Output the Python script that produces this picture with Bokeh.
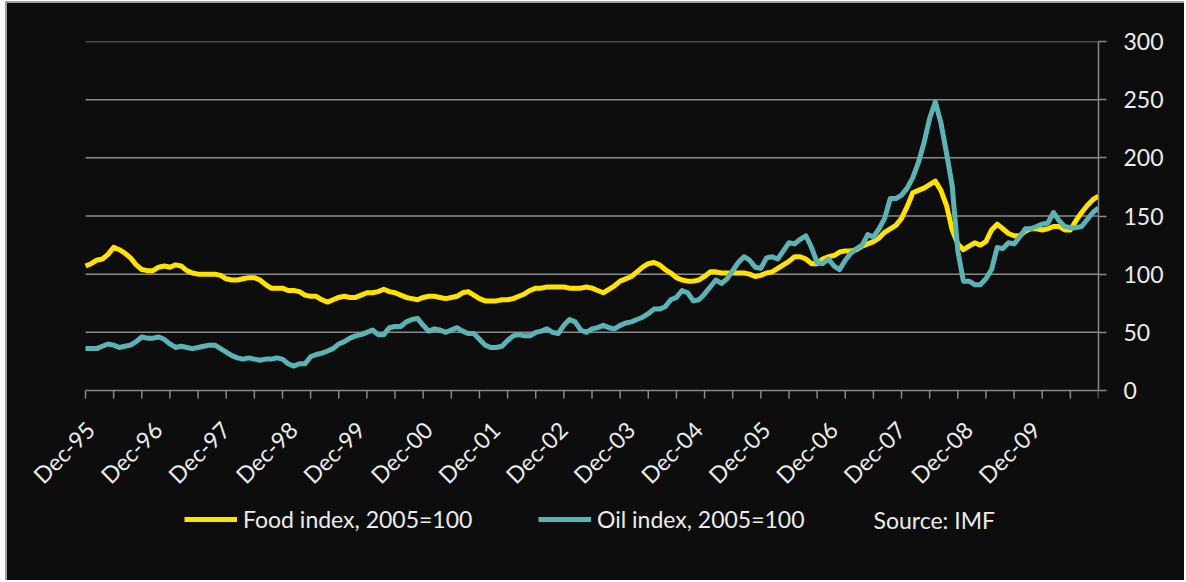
import math
from bokeh.plotting import figure
from bokeh.models import (Range1d, FixedTicker, Legend, LegendItem, Label,
                          LabelSet, ColumnDataSource, LinearAxis)
from bokeh.core.properties import value
from bokeh.embed import file_html
from bokeh.resources import INLINE

# ---- data: monthly, Dec-1995 .. Dec-2010 (index 0 = Dec-95) ----
month_index = list(range(181))

food = [
    107, 109, 112, 113, 117, 123, 121, 118, 114, 108, 104, 103,
    103, 106, 107, 106, 108, 107, 103, 101, 100, 100, 100, 100,
    99, 96, 95, 95, 96, 97, 97, 95, 91, 88, 88, 88,
    86, 86, 85, 82, 81, 81, 78, 76, 78, 80, 81, 80,
    80, 82, 84, 84, 85, 87, 85, 84, 82, 80, 79, 78,
    80, 81, 81, 80, 79, 80, 81, 84, 85, 82, 79, 77,
    77, 77, 78, 78, 79, 81, 83, 86, 88, 88, 89, 89,
    89, 89, 88, 88, 88, 89, 88, 86, 84, 87, 90, 94,
    96, 98, 102, 106, 109, 110, 108, 104, 101, 97, 95, 94,
    94, 95, 98, 102, 102, 101, 101, 101, 101, 101, 100, 98,
    99, 101, 102, 105, 108, 111, 115, 115, 113, 109, 109, 113,
    115, 116, 119, 120, 120, 121, 124, 126, 128, 131, 136, 139,
    142, 148, 158, 170, 172, 174, 177, 180, 172, 159, 138, 126,
    121, 124, 127, 125, 128, 138, 143, 139, 135, 133, 133, 137,
    139, 139, 138, 139, 141, 141, 138, 138, 146, 153, 159, 164,
    167,
]

oil = [
    36, 36, 36, 38, 40, 39, 37, 38, 39, 42, 46, 45,
    45, 46, 44, 40, 37, 38, 37, 36, 37, 38, 39, 39,
    36, 33, 30, 28, 27, 28, 27, 26, 27, 27, 28, 27,
    23, 21, 23, 23, 29, 31, 32, 34, 36, 40, 42, 45,
    47, 48, 50, 52, 48, 48, 54, 55, 55, 59, 61, 62,
    56, 51, 53, 52, 50, 52, 54, 51, 49, 49, 44, 39,
    37, 37, 38, 43, 47, 48, 47, 47, 50, 51, 53, 50,
    49, 56, 61, 59, 52, 50, 53, 54, 56, 54, 53, 56,
    58, 59, 61, 63, 66, 70, 70, 72, 78, 80, 86, 84,
    77, 78, 83, 89, 95, 92, 96, 103, 110, 115, 112, 106,
    105, 114, 115, 113, 120, 127, 126, 130, 133, 123, 110, 109,
    113, 107, 104, 112, 118, 122, 125, 134, 132, 139, 148, 165,
    165, 168, 174, 183, 196, 213, 234, 248, 230, 204, 176, 120,
    94, 94, 91, 91, 96, 104, 123, 122, 127, 126, 132, 139,
    139, 141, 143, 144, 153, 146, 141, 140, 140, 141, 147, 153,
    157,
]

tick_labels = ["Dec-95", "Dec-96", "Dec-97", "Dec-98", "Dec-99", "Dec-00",
               "Dec-01", "Dec-02", "Dec-03", "Dec-04", "Dec-05", "Dec-06",
               "Dec-07", "Dec-08", "Dec-09"]
label_months = [month_index[k * 12] for k in range(len(tick_labels))]
minor_tick_months = month_index[::5]
y_ticks = [0, 50, 100, 150, 200, 250, 300]

series_names = ["Food index, 2005=100", "Oil index, 2005=100"]
source_note = "Source: IMF"

# ---- style ----
BG = "#0d0d0d"
GRID = "#8a8a8a"
TXT = "#ececec"
YEL = "#ffe200"
TEAL = "#5cb3b6"
FONT = "Lato"
FS = "23px"

OX, OY = 7, 3                         # canvas origin on the page
W, H = 1179, 579
FL, FR, FT, FB = 85, 1098, 41, 390    # plot area (months 0..180, values 0..300) on the page
X_START, X_END = month_index[0], month_index[-1]
Y_BOT, Y_TOP = y_ticks[0], y_ticks[-1]
PX_PER_MONTH = (FR - FL) / (X_END - X_START)
PX_PER_UNIT = (FB - FT) / (Y_TOP - Y_BOT)
# the frame covers the whole canvas left of the value axis, so that the
# rotated date labels and the legend below the plot area are not clipped
X_LOW = X_START - (FL - OX) / PX_PER_MONTH
Y_LOW = Y_BOT - ((OY + H) - FB) / PX_PER_UNIT

p = figure(width=W, height=H, x_range=Range1d(X_LOW, X_END), y_range=Range1d(Y_LOW, Y_TOP),
           output_backend="svg", toolbar_location=None,
           x_axis_location=None, y_axis_location=None,
           background_fill_color=BG, background_fill_alpha=0,
           border_fill_color=BG, border_fill_alpha=0, outline_line_color=None,
           min_border_left=0, min_border_right=W - (FR - OX),
           min_border_top=FT - OY, min_border_bottom=0)
# one uniform dark background for the whole chart area (no seams between fills)
p.styles = {"border-left": "2px solid #a0a0a0", "border-top": "2px solid #a0a0a0",
            "margin-left": "5px", "margin-top": "1px", "background-color": BG}
p.xgrid.visible = False
p.ygrid.visible = False

# value axis on the right
ya = LinearAxis(bounds=(Y_BOT, Y_TOP))
ya.ticker = FixedTicker(ticks=y_ticks)
ya.minor_tick_line_color = None
ya.major_tick_in = 0
ya.major_tick_out = 8
ya.major_tick_line_color = GRID
ya.major_tick_line_width = 1.5
ya.axis_line_color = GRID
ya.axis_line_width = 1.5
ya.major_label_standoff = 17
ya.major_label_text_font = FONT
ya.major_label_text_font_size = FS
ya.major_label_text_color = TXT
p.add_layout(ya, "right")

# horizontal gridlines over the plot area (the one at 0 is the date axis line)
p.segment(x0=[X_START] * len(y_ticks), x1=[X_END] * len(y_ticks),
          y0=y_ticks, y1=y_ticks, line_color=GRID, line_width=1.5)
# date axis tick marks every 5 months, pointing down
p.ray(x=minor_tick_months, y=[Y_BOT] * len(minor_tick_months), length=8,
      length_units="screen", angle=-math.pi / 2, line_color=GRID, line_width=1.5)

r_food = p.line(month_index, food, line_color=YEL, line_width=5, line_join="round")
r_oil = p.line(month_index, oil, line_color=TEAL, line_width=5, line_join="round")

# rotated date labels hung below the axis
lab_src = ColumnDataSource(dict(x=label_months, text=tick_labels))
xlabels = LabelSet(x="x", y=Y_BOT, text="text", source=lab_src,
                   angle=math.pi / 4, text_align="right", text_baseline="top",
                   x_offset=-5, y_offset=-25, text_font=value(FONT),
                   text_font_size=FS, text_color=TXT)
p.add_layout(xlabels)

LEG_Y = 519   # page y of legend row centre
FRAME_BOTTOM = OY + H
legend = Legend(items=[LegendItem(label=series_names[0], renderers=[r_food]),
                       LegendItem(label=series_names[1], renderers=[r_oil])],
                orientation="horizontal",
                location=(184 - OX, FRAME_BOTTOM - LEG_Y - 14),
                glyph_width=53, glyph_height=20, label_standoff=6, label_width=237,
                spacing=58, padding=0, margin=0, border_line_color=None,
                background_fill_alpha=0, label_text_font=FONT,
                label_text_font_size=FS, label_text_color=TXT)
p.add_layout(legend)

src_label = Label(x=X_START + (873 - FL) / PX_PER_MONTH, y=Y_BOT, y_offset=-(LEG_Y - FB),
                  text=source_note, text_baseline="middle", text_font=FONT,
                  text_font_size=FS, text_color=TXT)
p.add_layout(src_label)

open("out.html", "w").write(file_html(p, INLINE))
